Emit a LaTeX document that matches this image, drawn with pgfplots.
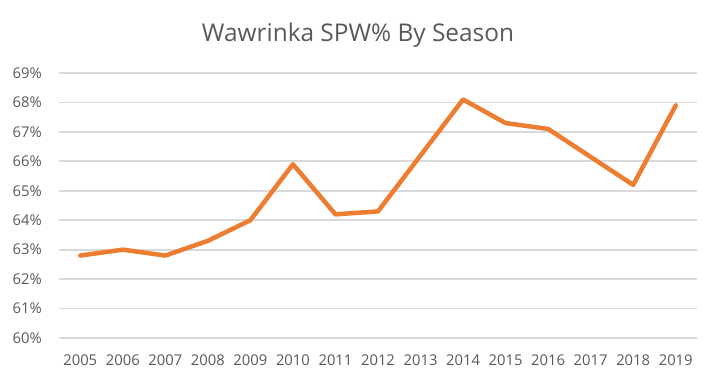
\documentclass[border=0pt]{standalone}
\usepackage{pgfplots}
\pgfplotsset{compat=1.18}
\usepackage{fontspec}
\setmainfont{Open Sans}
\definecolor{lineor}{HTML}{ED7D31}
\definecolor{gridc}{HTML}{D9D9D9}
\definecolor{txt}{HTML}{595959}
\begin{document}
\begin{tikzpicture}[x=1pt,y=1pt]
\useasboundingbox (0,0) rectangle (716,391);
\node[text=txt,font=\fontsize{24.4}{29}\selectfont,anchor=base,inner sep=0pt] at (358,349.3) {Wawrinka SPW\% By Season};
\begin{axis}[
  at={(59pt,53pt)}, anchor=south west,
  scale only axis, width=638pt, height=265pt,
  xmin=-0.5, xmax=14.5, ymin=60, ymax=69,
  xtick={0,...,14},
  xticklabels={2005,2006,2007,2008,2009,2010,2011,2012,2013,2014,2015,2016,2017,2018,2019},
  ytick={60,...,69},
  yticklabel={\pgfmathprintnumber{\tick}\%},
  /pgf/number format/assume math mode=true,
  ticklabel style={text=txt,font=\fontsize{14.8}{17}\selectfont},
  axis line style={draw=none},
  major tick length=0pt,
  ymajorgrids, grid style={gridc,line width=1.8pt},
  yticklabel style={anchor=east,inner sep=0pt,xshift=-17pt},
  xticklabel style={anchor=base,inner sep=0pt,yshift=-28pt},
  clip=false,
]
\addplot[lineor,line width=4.5pt,line join=round,line cap=round] coordinates {
(0,62.8)(1,63.0)(2,62.8)(3,63.3)(4,64.0)(5,65.9)(6,64.2)(7,64.3)(8,66.2)(9,68.1)(10,67.3)(11,67.1)(12,66.15)(13,65.2)(14,67.9)};
\end{axis}
\end{tikzpicture}
\end{document}
